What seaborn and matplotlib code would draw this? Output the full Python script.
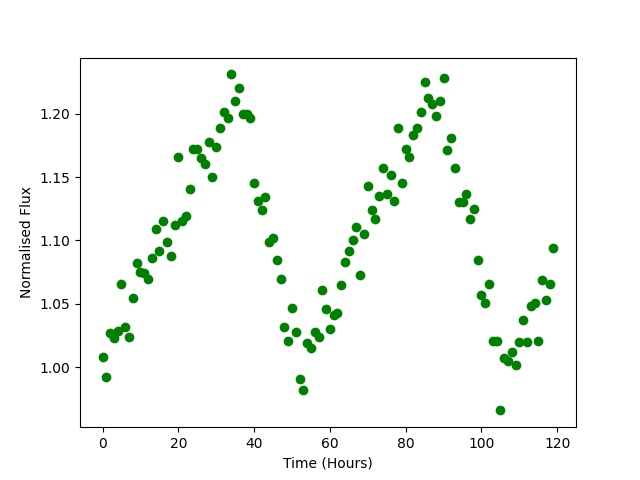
import numpy as np
import pandas as pd
import matplotlib
matplotlib.use("Agg")
import matplotlib.pyplot as plt
import seaborn as sns

hours = list(range(120))
flux = [
    1.008, 0.992, 1.027, 1.023, 1.029, 1.066, 1.032, 1.024, 1.055, 1.082,
    1.075, 1.074, 1.070, 1.086, 1.109, 1.092, 1.115, 1.099, 1.088, 1.112,
    1.166, 1.115, 1.119, 1.141, 1.172, 1.172, 1.165, 1.160, 1.178, 1.150,
    1.174, 1.189, 1.201, 1.197, 1.231, 1.210, 1.220, 1.200, 1.200, 1.197,
    1.145, 1.131, 1.124, 1.134, 1.099, 1.102, 1.085, 1.070, 1.032, 1.021,
    1.047, 1.028, 0.991, 0.982, 1.019, 1.015, 1.028, 1.024, 1.061, 1.046,
    1.030, 1.041, 1.043, 1.065, 1.083, 1.092, 1.100, 1.111, 1.073, 1.105,
    1.143, 1.124, 1.117, 1.135, 1.157, 1.137, 1.152, 1.131, 1.189, 1.145,
    1.172, 1.166, 1.183, 1.189, 1.201, 1.225, 1.212, 1.208, 1.198, 1.210,
    1.228, 1.171, 1.181, 1.157, 1.130, 1.130, 1.137, 1.117, 1.125, 1.085,
    1.057, 1.051, 1.066, 1.021, 1.021, 0.966, 1.007, 1.005, 1.012, 1.002,
    1.020, 1.037, 1.020, 1.048, 1.051, 1.021, 1.069, 1.053, 1.066, 1.094,
]

df = pd.DataFrame({"time": hours, "flux": flux})

fig, ax = plt.subplots(figsize=(6.4, 4.8), dpi=100)
# same look as plt.plot(..., 'go'): 6pt marker plus 1pt edge
sns.scatterplot(data=df, x="time", y="flux", color="green", s=36,
                edgecolor="green", linewidth=1, ax=ax)
ax.set_xlabel("Time (Hours)")
ax.set_ylabel("Normalised Flux")
fig.savefig("out.png", dpi=100)
